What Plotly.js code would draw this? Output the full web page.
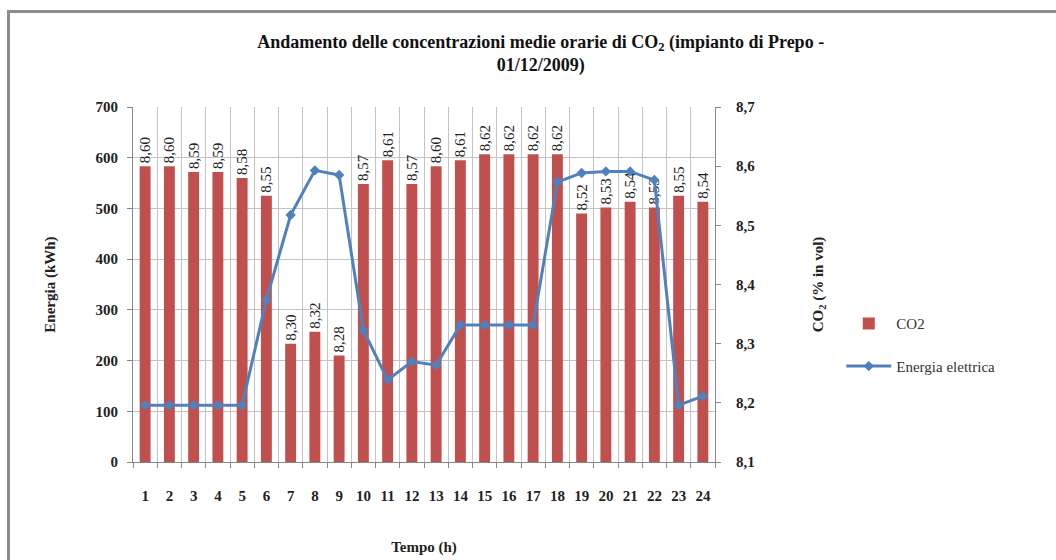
<!DOCTYPE html>
<html>
<head>
<meta charset="utf-8">
<script src="https://cdn.plot.ly/plotly-3.0.1.min.js"></script>
<style>
  html, body { margin: 0; padding: 0; background: #ffffff; overflow: hidden; }
  #wrap { position: relative; width: 1056px; height: 560px; overflow: hidden; }
  #chart { position: absolute; left: 0; top: 0; width: 1056px; height: 560px; }
  #frame { position: absolute; left: 7px; top: 10px; width: 1100px; height: 600px;
           border-left: 3px solid #8c8c8c; border-top: 3px solid #8c8c8c; pointer-events: none; }
</style>
</head>
<body>
<div id="wrap">
  <div id="chart"></div>
  <div id="frame"></div>
</div>
<script>
const hours = ['1','2','3','4','5','6','7','8','9','10','11','12','13','14','15','16','17','18','19','20','21','22','23','24'];
const co2 = [8.60, 8.60, 8.59, 8.59, 8.58, 8.55, 8.30, 8.32, 8.28, 8.57, 8.61, 8.57, 8.60, 8.61, 8.62, 8.62, 8.62, 8.62, 8.52, 8.53, 8.54, 8.53, 8.55, 8.54];
const energia = [112, 112, 112, 112, 112, 320, 487, 575, 566, 260, 162, 198, 191, 270, 270, 270, 270, 552, 570, 573, 573, 556, 112, 130];

const serif = 'Liberation Serif, Times New Roman, serif';
const co2Labels = co2.map(v => v.toFixed(2).replace('.', ','));

// CO2 bars on the primary (right-side) axis so the energy line, on the overlaying axis, is drawn above them
const traces = [
  {
    type: 'bar', name: 'CO2', x: hours, y: co2, yaxis: 'y',
    legendgroup: 'a',
    marker: { color: '#C0504D' },
    text: co2Labels, textposition: 'outside', textangle: -90,
    constraintext: 'none', cliponaxis: false,
    textfont: { family: serif, size: 15, color: '#222' }
  },
  {
    type: 'scatter', mode: 'lines+markers', name: 'Energia elettrica',
    x: hours, y: energia, yaxis: 'y2',
    legendgroup: 'b',
    line: { color: '#4F81BD', width: 3 },
    marker: { symbol: 'diamond', size: 8, color: '#4F81BD' }
  }
];

const layout = {
  width: 1056, height: 560,
  paper_bgcolor: '#ffffff', plot_bgcolor: '#ffffff',
  separators: ',.',
  margin: { l: 133, r: 341, t: 107, b: 98 },
  bargap: 0.55,
  font: { family: serif, color: '#222' },
  title: {
    text: '<b>Andamento delle concentrazioni medie orarie di CO<sub>2</sub> (impianto di Prepo -<br>01/12/2009)</b>',
    font: { family: serif, size: 18, color: '#111' },
    x: 0.512, xref: 'container', xanchor: 'center',
    y: 0.915, yref: 'container', yanchor: 'top'
  },
  xaxis: {
    type: 'category',
    range: [-0.5, 23.5],
    tickson: 'boundaries',
    tickangle: 0,
    ticklabelstandoff: 20,
    showgrid: true, gridcolor: '#c4c4c4', gridwidth: 1,
    ticks: 'outside', ticklen: 5, tickcolor: '#888',
    showline: true, linecolor: '#888', linewidth: 1,
    tickfont: { family: serif, size: 15, color: '#222', weight: 'bold' },
    title: { text: '<b>Tempo (h)</b>', font: { family: serif, size: 15, color: '#222' }, standoff: 38 },
    fixedrange: true
  },
  yaxis: {
    side: 'right',
    range: [8.1, 8.7], dtick: 0.1, tickformat: '.1f',
    ticklabelstandoff: 12,
    showgrid: false, zeroline: false,
    ticks: 'outside', ticklen: 5, tickcolor: '#888',
    showline: true, linecolor: '#888', linewidth: 1,
    tickfont: { family: serif, size: 15, color: '#222', weight: 'bold' },
    title: { text: '<b>CO<sub>2</sub> (% in vol)</b>', font: { family: serif, size: 15, color: '#222' }, standoff: 58 },
    fixedrange: true
  },
  yaxis2: {
    overlaying: 'y', side: 'left',
    range: [0, 700], dtick: 100,
    ticklabelstandoff: 6,
    showgrid: true, gridcolor: '#c4c4c4', gridwidth: 1,
    zeroline: false,
    ticks: 'outside', ticklen: 5, tickcolor: '#888',
    showline: true, linecolor: '#888', linewidth: 1,
    tickfont: { family: serif, size: 15, color: '#222', weight: 'bold' },
    title: { text: '<b>Energia (kWh)</b>', font: { family: serif, size: 15, color: '#222' }, standoff: 36 },
    fixedrange: true
  },
  legend: {
    x: 1.217, xanchor: 'left', y: 0.33, yanchor: 'middle',
    font: { family: serif, size: 15, color: '#333' },
    bgcolor: 'rgba(0,0,0,0)', traceorder: 'grouped', tracegroupgap: 20, itemwidth: 45
  },
  showlegend: true
};

Plotly.newPlot('chart', traces, layout, { displayModeBar: false, staticPlot: true });
</script>
</body>
</html>
